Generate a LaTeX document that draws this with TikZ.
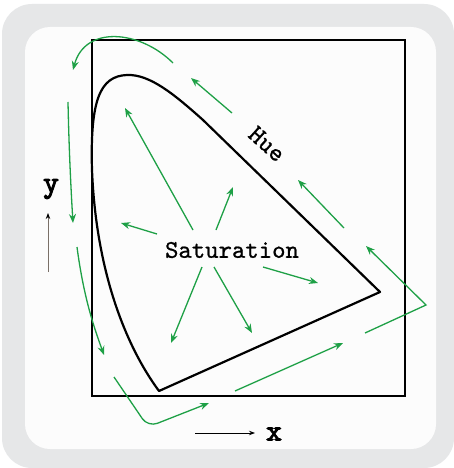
\documentclass[tikz,border=0pt]{standalone}
\usepackage{fontspec}
\newfontfamily\locusfont[FakeBold=0.8]{lmmono10-regular.otf}
\newfontfamily\axisfont[FakeBold=3.5]{lmmono10-regular.otf}
\usetikzlibrary{arrows.meta, positioning}
\definecolor{frameGray}{RGB}{230,231,232}
\definecolor{panelWhite}{RGB}{252,252,252}
\definecolor{flowGreen}{RGB}{30,160,70}
\definecolor{axisBrown}{RGB}{122,112,104}

\begin{document}
\begin{tikzpicture}[x=1pt, y=-1pt,
greenarrow/.style={-{Stealth[length=9pt, width=7pt]}, line width=1.3pt, color=flowGreen},
axisarrow/.style={-{Stealth[length=6pt, width=4.5pt]}, line width=1pt},
textlabel/.style={font=\locusfont\fontsize{25.5}{28}\selectfont, inner sep=1pt},
axislabel/.style={font=\axisfont\fontsize{30}{32}\selectfont, inner sep=0pt}]

% frame and panel
\useasboundingbox (0,0) rectangle (454,468);
\fill[white] (0,0) rectangle (454,468);
\fill[frameGray, rounded corners=30pt] (2,4) rectangle (454,468);
\fill[panelWhite, rounded corners=25pt] (25,27) rectangle (436,449);

% xy square and spectral locus
\draw[line width=1.8pt] (92,40) rectangle (405,396);
\draw[line width=2.2pt, line join=round]
    (380,292) -- (159,391)
    .. controls (125,345) and (96,270) .. (92,170)
    .. controls (90,100) and (100,76) .. (127,75)
    .. controls (150,74) and (175,95) .. (203,120) -- cycle;

% labels
\node[textlabel] (sat) at (232,250) {Saturation};
\node[textlabel, rotate=-42] (hue) at (267,144) {Hue};
\node[axislabel] (ylabel) at (51,189) {y};
\node[axislabel] (xlabel) at (274,434) {x};

% axis arrows
\draw[axisarrow, color=axisBrown, -{Stealth[length=6pt, width=4.5pt, color=black]}] (48,272) -- (48,213);
\draw[axisarrow] (195,433) -- (255,433);

% saturation arrows
\draw[greenarrow] (193,230) -- (125,108);
\draw[greenarrow] (216,230) -- (233,187);
\draw[greenarrow] (157,234) -- (121,223);
\draw[greenarrow] (263,267) -- (318,283);
\draw[greenarrow] (202,267) -- (171,343);
\draw[greenarrow] (214,267) -- (252,333);

% hue arrows
\draw[greenarrow] (232,113) -- (191,78);
\draw[greenarrow] (344,228) -- (298,180);
\draw[greenarrow] (173,63) .. controls (140,30) and (85,25) .. (73,70);
\draw[greenarrow] (68,102) .. controls (69,150) and (71,190) .. (73,223);
\draw[greenarrow] (77,247) .. controls (84,300) and (95,330) .. (104,355);
\draw[greenarrow, rounded corners=10pt] (114,377) -- (148,427) -- (209,403);
\draw[greenarrow] (235,391) -- (343,343);
\draw[greenarrow] (365,333) -- (426,305) -- (366,246);
\end{tikzpicture}
\end{document}
